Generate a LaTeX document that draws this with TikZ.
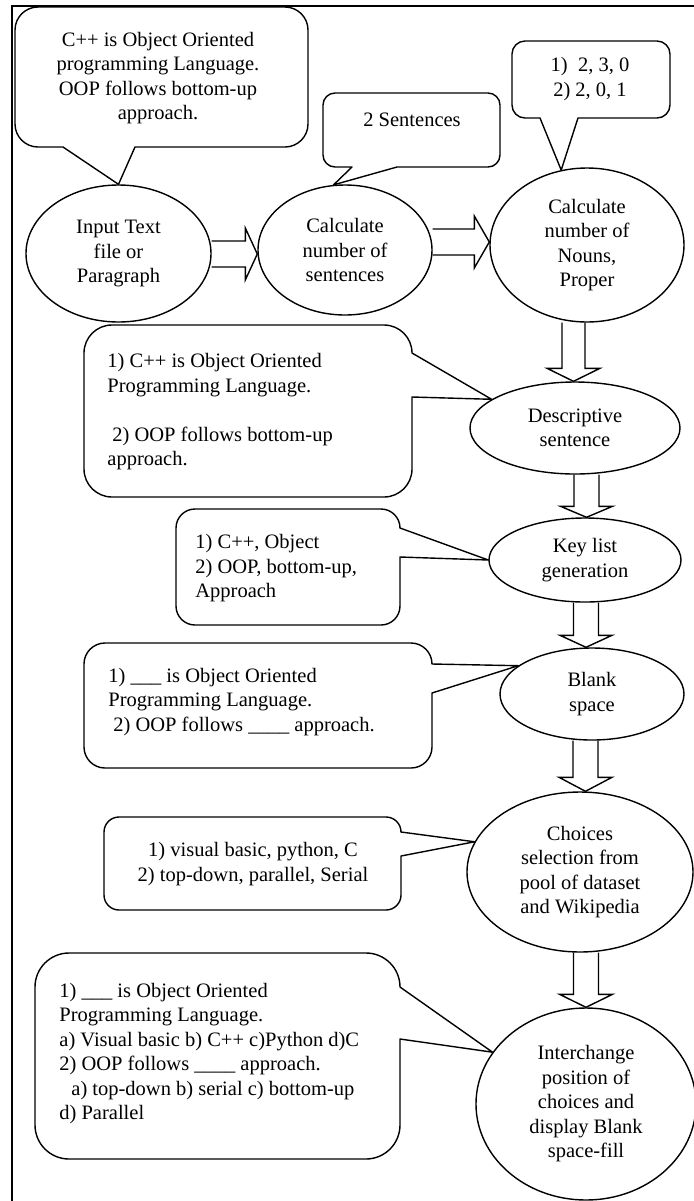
\documentclass[tikz,border=0pt]{standalone}
\usepackage{fontspec}
\setmainfont{Liberation Serif}
\usetikzlibrary{shapes.geometric,calc}
\tikzset{
  txtfont/.style={font=\fontsize{10.25pt}{12.25pt}\selectfont},
  ell/.style={draw, ellipse, line width=0.7pt, inner sep=0pt, align=center, txtfont},
  txtl/.style={inner sep=0pt, align=left, anchor=west, txtfont},
  txtc/.style={inner sep=0pt, align=center, anchor=center, txtfont},
  calloutline/.style={draw, line width=0.7pt, line join=round},
  blockarrow/.style={draw, line width=0.7pt, line join=miter},
  frameline/.style={draw, line width=1pt}
}
% right-tail callout: x1 y1 x2 y2 r ty1 ty2 tip
\newcommand\callR[8]{%
  \draw[calloutline] ({#1+#5},#2) -- ({#3-#5},#2)
   .. controls ({#3-0.448*#5},#2) and (#3,{#2+0.448*#5}) .. (#3,{#2+#5})
   -- (#3,#6) -- (#8) -- (#3,#7) -- (#3,{#4-#5})
   .. controls (#3,{#4-0.448*#5}) and ({#3-0.448*#5},#4) .. ({#3-#5},#4)
   -- ({#1+#5},#4)
   .. controls ({#1+0.448*#5},#4) and (#1,{#4-0.448*#5}) .. (#1,{#4-#5})
   -- (#1,{#2+#5})
   .. controls (#1,{#2+0.448*#5}) and ({#1+0.448*#5},#2) .. ({#1+#5},#2) -- cycle;}
% bottom-tail callout: x1 y1 x2 y2 r tx1 tx2 tip
\newcommand\callB[8]{%
  \draw[calloutline] ({#1+#5},#2) -- ({#3-#5},#2)
   .. controls ({#3-0.448*#5},#2) and (#3,{#2+0.448*#5}) .. (#3,{#2+#5})
   -- (#3,{#4-#5})
   .. controls (#3,{#4-0.448*#5}) and ({#3-0.448*#5},#4) .. ({#3-#5},#4)
   -- (#7,#4) -- (#8) -- (#6,#4) -- ({#1+#5},#4)
   .. controls ({#1+0.448*#5},#4) and (#1,{#4-0.448*#5}) .. (#1,{#4-#5})
   -- (#1,{#2+#5})
   .. controls (#1,{#2+0.448*#5}) and ({#1+0.448*#5},#2) .. ({#1+#5},#2) -- cycle;}
% right block arrow: from to y bodyhalf headhalf headlen
\newcommand\arrR[6]{%
  \coordinate (ay) at (0,#3);
  \coordinate (as) at (#1.east |- ay);
  \coordinate (at) at (#2.west |- ay);
  \draw[blockarrow] ($(as)+(0,-#4)$) -- ($(at)+(-#6,-#4)$) -- ($(at)+(-#6,-#5)$)
    -- (at) -- ($(at)+(-#6,#5)$) -- ($(at)+(-#6,#4)$) -- ($(as)+(0,#4)$);}
% down block arrow: from to x bodyhalf headhalf headlen
\newcommand\arrD[6]{%
  \coordinate (ax) at (#3,0);
  \coordinate (as) at (#1.south -| ax);
  \coordinate (at) at (#2.north -| ax);
  \draw[blockarrow] ($(as)+(-#4,0)$) -- ($(at)+(-#4,-#6)$) -- ($(at)+(-#5,-#6)$)
    -- (at) -- ($(at)+(#5,-#6)$) -- ($(at)+(#4,-#6)$) -- ($(as)+(#4,0)$);}
\begin{document}
\begin{tikzpicture}[x=0.5pt,y=-0.5pt]
\useasboundingbox (0,0) rectangle (694,1201);
% frame
\draw[frameline] (12,1201) -- (12,6) -- (694,6);

% process ellipses
\node[ell, minimum width=92.5pt, minimum height=68.5pt] (e1) at (118.5,253.5) {Input Text\\file or\\Paragraph};
\node[ell, minimum width=87pt, minimum height=65pt] (e2) at (345,250) {Calculate\\number of\\sentences};
\node[ell, minimum width=97pt, minimum height=77pt] (e3) at (587,245) {Calculate\\number of\\Nouns,\\Proper};
\node[ell, minimum width=105pt, minimum height=46pt] (des) at (575,428) {Descriptive\\sentence};
\node[ell, minimum width=96pt, minimum height=42pt] (key) at (585,560) {Key list\\generation};
\node[ell, minimum width=92pt, minimum height=46pt] (blank) at (592,694) {Blank\\space};
\node[ell, minimum width=113pt, minimum height=80pt] (cho) at (580,872) {Choices\\selection from\\pool of dataset\\and Wikipedia};
\node[ell, minimum width=110pt, minimum height=96pt] (inter) at (586,1104) {Interchange\\position of\\choices and\\display Blank\\space-fill};

% block arrows
\arrR{e1}{e2}{254}{13}{26}{12}
\arrR{e2}{e3}{242}{13}{26}{15}
\arrD{e3}{des}{573.5}{11.5}{26.5}{13}
\arrD{des}{key}{586.5}{12.5}{26}{11}
\arrD{key}{blank}{586}{12.5}{26}{12}
\arrD{blank}{cho}{585.5}{12.5}{26.5}{14}
\arrD{cho}{inter}{586}{12.5}{26.5}{13}

% callouts
\callB{15}{7}{308}{147}{23}{63}{135}{e1.north}
\callB{323}{93}{500}{167}{12}{352}{397}{e2.100}
\callB{512}{41}{670}{118}{13}{540}{578}{e3.109}
\callR{84}{325}{412}{497}{28}{353}{397}{des.161}
\callR{176}{509}{400}{625}{19}{528}{557}{key.west}
\callR{84}{643}{432}{768}{21}{664}{693}{blank.159}
\callR{104}{817}{401}{910}{15}{832}{856}{cho.164}
\callR{35}{953}{400}{1159}{34}{987}{1039}{inter.151}

% callout texts
\node[txtc] (t1) at (158,78) {C++ is Object Oriented\\programming Language.\\OOP follows bottom-up\\approach.};
\node[txtc] (t2) at (412,120) {2 Sentences};
\node[txtc] (t3) at (590,79) {1)\ \ 2, 3, 0\\2) 2, 0, 1};
\node[txtl] (t4) at (107,412) {1) C++ is Object Oriented\\Programming Language.\\[12.25pt]\hspace*{2.5pt}2) OOP follows bottom-up\\approach.};
\node[txtl] (t5) at (195,568.5) {1) C++, Object\\2) OOP, bottom-up,\\Approach};
\node[txtl] (t6) at (108,702) {1) \_\_\_ is Object Oriented\\Programming Language.\\\hspace*{2.5pt}2) OOP follows \_\_\_\_ approach.};
\node[txtc] (t7) at (253,864) {1) visual basic, python, C\\2) top-down, parallel, Serial};
\node[txtl] (t8) at (59,1053.5) {1) \_\_\_ is Object Oriented\\Programming Language.\\a) Visual basic b) C++ c)Python d)C\\2) OOP follows \_\_\_\_ approach.\\\hspace*{6pt}a) top-down b) serial c) bottom-up\\d) Parallel};
\end{tikzpicture}
\end{document}
